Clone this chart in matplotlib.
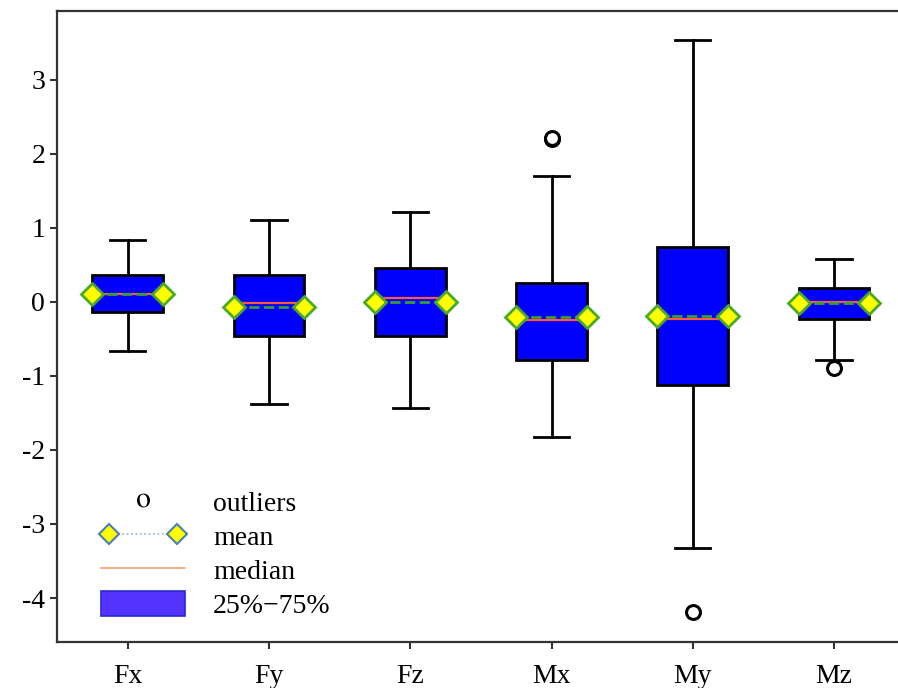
#!/usr/bin/env python3
"""Box plot of six force/moment components with mean and median markers."""
import matplotlib

matplotlib.use("Agg")
import matplotlib.pyplot as plt
from matplotlib.lines import Line2D
from matplotlib.patches import Patch
from matplotlib.legend_handler import HandlerLine2D

plt.rcParams["font.family"] = ["Liberation Serif", "DejaVu Serif"]
plt.rcParams["mathtext.fontset"] = "stix"

labels = ["Fx", "Fy", "Fz", "Mx", "My", "Mz"]
q1 = [-0.14, -0.46, -0.46, -0.79, -1.13, -0.23]
q3 = [0.36, 0.36, 0.46, 0.25, 0.74, 0.19]
medians = [0.11, -0.02, 0.05, -0.25, -0.23, 0.00]
means = [0.11, -0.07, 0.00, -0.21, -0.19, -0.02]
whisk_lo = [-0.67, -1.38, -1.44, -1.83, -3.32, -0.78]
whisk_hi = [0.84, 1.10, 1.21, 1.70, 3.54, 0.58]
fliers = [[], [], [], [2.20, 2.21], [-4.19], [-0.89]]

stats = []
for i, lab in enumerate(labels):
    stats.append(dict(label=lab, q1=q1[i], q3=q3[i], med=medians[i],
                      mean=means[i], whislo=whisk_lo[i], whishi=whisk_hi[i],
                      fliers=fliers[i]))

fig = plt.figure(figsize=(8.98, 6.88), dpi=100)
ax = fig.add_axes([0.0635, 0.0673, 0.944, 0.917])

ax.bxp(
    stats, widths=0.5, patch_artist=True, showmeans=True, meanline=True,
    boxprops=dict(facecolor="#0000ff", edgecolor="black", linewidth=2),
    whiskerprops=dict(color="black", linewidth=2),
    capprops=dict(color="black", linewidth=2),
    medianprops=dict(color="#ff5a3c", linewidth=1.6),
    meanprops=dict(color="#3a9a3a", linestyle="--", linewidth=2,
                   marker="D", markersize=11, markerfacecolor="#ffff00",
                   markeredgecolor="#4aa82a", markeredgewidth=2),
    flierprops=dict(marker="o", markersize=10, markerfacecolor="white",
                    markeredgecolor="black", markeredgewidth=2.2),
)

ax.set_xlim(0.5, 6.5)
ax.set_ylim(-4.59, 3.93)
ax.set_yticks([-4, -3, -2, -1, 0, 1, 2, 3])
ax.set_yticklabels(["-4", "-3", "-2", "-1", "0", "1", "2", "3"])
ax.tick_params(axis="both", direction="out", length=5, width=1.5,
               labelsize=20, color="#333333")
ax.tick_params(axis="x", pad=11)
for sp in ax.spines.values():
    sp.set_linewidth(1.6)
    sp.set_color("#333333")

# legend
h_out = Line2D([], [], linestyle="none", marker=r"$\mathrm{o}$",
               markersize=10, markeredgewidth=0, color="black")
h_mean = Line2D([], [], color="#8ab0e0", linestyle=":", linewidth=1.2,
                marker="D", markersize=10, markerfacecolor="#ffff00",
                markeredgecolor="#4a80b0", markeredgewidth=1.5)
h_med = Line2D([], [], color="#f5a070", linewidth=1.2)
h_box = Patch(facecolor="#5533ff", edgecolor="#2a2ad0", linewidth=1.2)
ax.legend(
    [h_out, h_mean, h_med, h_box],
    ["outliers", "mean", "median", "25%\u221275%"],
    handler_map={h_mean: HandlerLine2D(numpoints=2),
                 h_out: HandlerLine2D(numpoints=1)},
    loc="lower left", bbox_to_anchor=(0.022, -0.004), frameon=False,
    fontsize=20, handlelength=3.05, handleheight=1.0, handletextpad=1.0,
    labelspacing=0.22,
)

fig.savefig("out.png", dpi=100)
